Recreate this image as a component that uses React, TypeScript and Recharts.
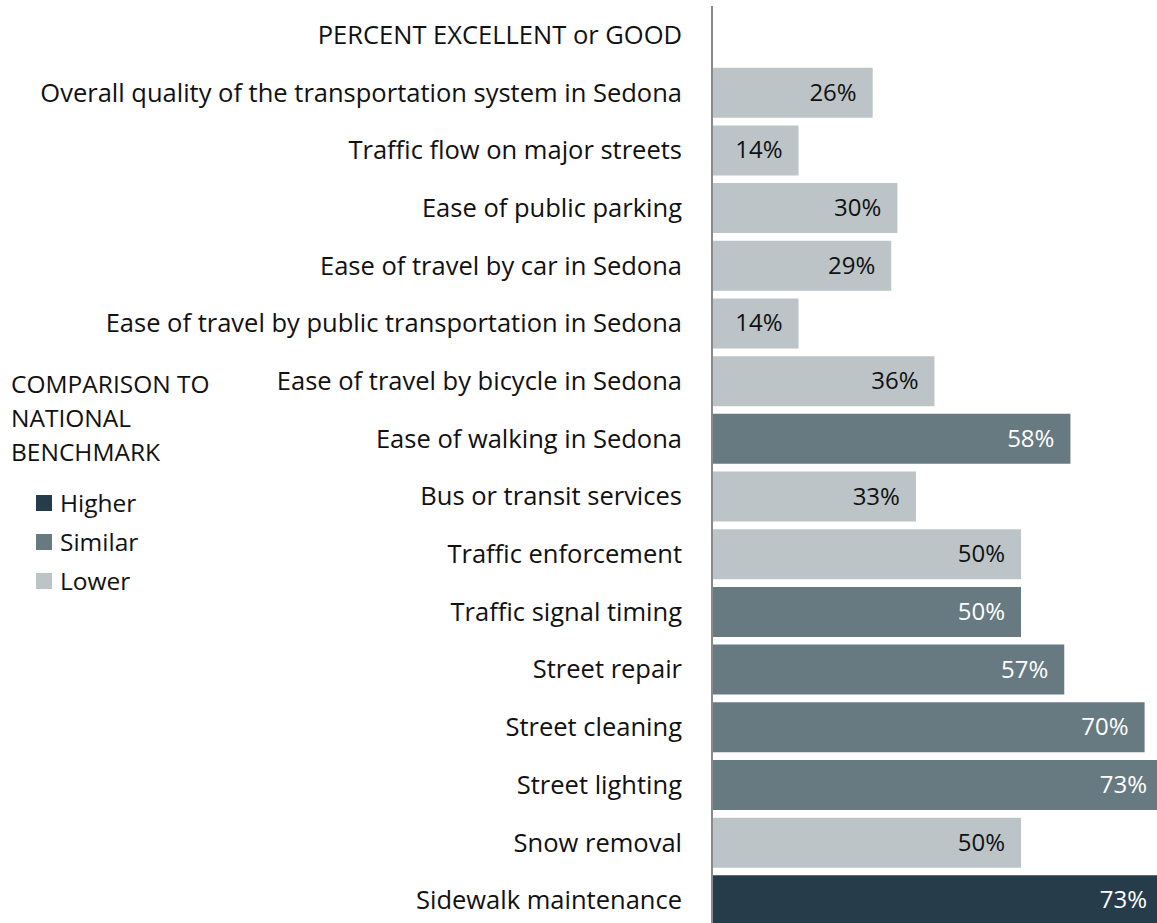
import { BarChart, Bar, XAxis, YAxis, Cell, LabelList, Legend } from 'recharts';

const categories = [
  'PERCENT EXCELLENT or GOOD',
  'Overall quality of the transportation system in Sedona',
  'Traffic flow on major streets',
  'Ease of public parking',
  'Ease of travel by car in Sedona',
  'Ease of travel by public transportation in Sedona',
  'Ease of travel by bicycle in Sedona',
  'Ease of walking in Sedona',
  'Bus or transit services',
  'Traffic enforcement',
  'Traffic signal timing',
  'Street repair',
  'Street cleaning',
  'Street lighting',
  'Snow removal',
  'Sidewalk maintenance',
];

const percents = [null, 26, 14, 30, 29, 14, 36, 58, 33, 50, 50, 57, 70, 73, 50, 73];

const benchmarks = [
  null, 'Lower', 'Lower', 'Lower', 'Lower', 'Lower', 'Lower', 'Similar',
  'Lower', 'Lower', 'Similar', 'Similar', 'Similar', 'Similar', 'Lower', 'Higher',
];

const legendTitle = ['COMPARISON TO', 'NATIONAL', 'BENCHMARK'];
const legendItems = ['Higher', 'Similar', 'Lower'];

const COLORS: Record<string, string> = {
  Higher: '#263c4b',
  Similar: '#677a81',
  Lower: '#bcc4c7',
};

const FONT = '"Open Sans", sans-serif';

// dark text on the light bars, white text on the darker ones
const chartData = categories.map((name, i) => ({
  name,
  value: percents[i],
  benchmark: benchmarks[i],
  darkLabel: benchmarks[i] === 'Lower' ? percents[i] : null,
  lightLabel: benchmarks[i] && benchmarks[i] !== 'Lower' ? percents[i] : null,
}));

const makeLabel = (color: string) => (props: any) => {
  const { x, y, width, height, value } = props;
  if (value == null) return null;
  return (
    <text
      x={x + width - 16}
      y={y + height / 2}
      dy={8}
      textAnchor="end"
      fill={color}
      fontSize={24}
      fontFamily={FONT}
    >
      {value}%
    </text>
  );
};

function BenchmarkLegend() {
  return (
    <div style={{ fontFamily: FONT, fontSize: 24.5, color: '#111', textAlign: 'left' }}>
      {legendTitle.map((t) => (
        <div key={t} style={{ lineHeight: '34px' }}>{t}</div>
      ))}
      <div style={{ marginTop: 14 }}>
        {legendItems.map((item) => (
          <div key={item} style={{ display: 'flex', alignItems: 'center', height: 39, paddingLeft: 25 }}>
            <span style={{ width: 16, height: 16, background: COLORS[item], marginRight: 8 }} />
            {item}
          </div>
        ))}
      </div>
    </div>
  );
}

export default function App() {
  return (
    <div style={{ position: 'fixed', top: 0, left: 0, width: 1157, height: 923, overflow: 'hidden', background: '#fff' }}>
      <BarChart
        width={1330}
        height={929}
        data={chartData}
        layout="vertical"
        margin={{ top: 6, right: 0, bottom: 0, left: 0 }}
        barCategoryGap={4}
      >
        <XAxis type="number" domain={[0, 100]} hide />
        <YAxis
          type="category"
          dataKey="name"
          width={712}
          tickLine={false}
          tickMargin={24}
          axisLine={{ stroke: '#8a8a8a', strokeWidth: 2 }}
          tick={{ fill: '#111', fontSize: 25.5, fontFamily: FONT }}
          interval={0}
        />
        <Legend
          layout="vertical"
          align="center"
          verticalAlign="middle"
          content={() => <BenchmarkLegend />}
          wrapperStyle={{ left: 11, top: 367, width: 260 }}
        />
        <Bar dataKey="value" isAnimationActive={false}>
          {chartData.map((d, i) => (
            <Cell key={i} fill={d.benchmark ? COLORS[d.benchmark] : 'transparent'} />
          ))}
          <LabelList dataKey="darkLabel" content={makeLabel('#111')} />
          <LabelList dataKey="lightLabel" content={makeLabel('#ffffff')} />
        </Bar>
      </BarChart>
    </div>
  );
}
